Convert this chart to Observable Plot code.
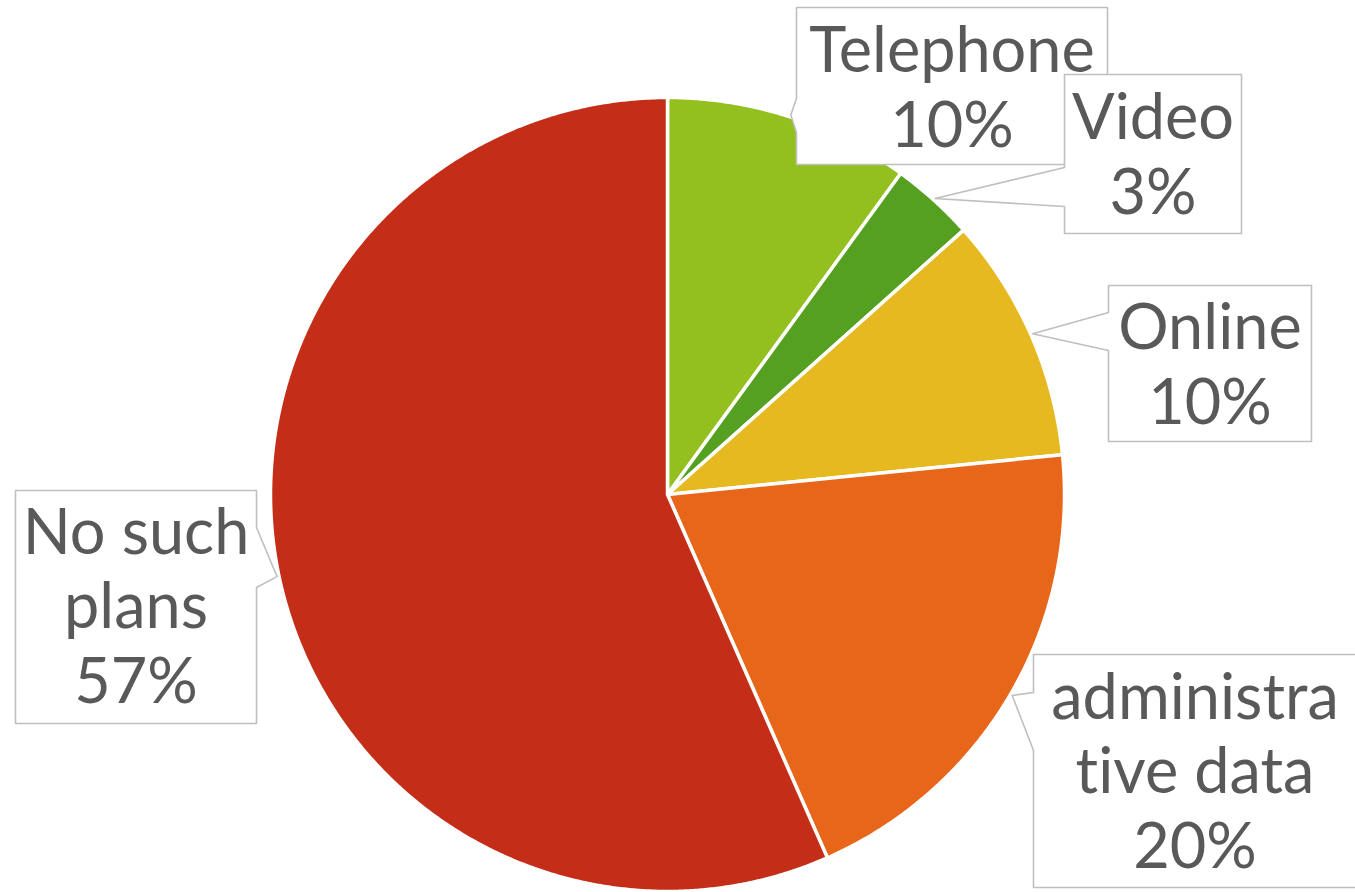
<!DOCTYPE html>
<html><head><meta charset="utf-8">
<script src="https://cdn.jsdelivr.net/npm/d3@7"></script>
<script src="https://cdn.jsdelivr.net/npm/@observablehq/plot@0.6"></script>
<style>html,body{margin:0;padding:0;background:#fff;overflow:hidden}
svg text{font-variant-ligatures:none;font-feature-settings:"liga" 0,"clig" 0,"dlig" 0}</style>
</head><body><div id="chart"></div>
<script>
// ---- data ----
const categories = ["Telephone", "Video", "Online", "administrative data", "No such plans"];
const labelLines = [["Telephone"], ["Video"], ["Online"], ["administra", "tive data"], ["No such", "plans"]];
const values = [10, 3.4, 10, 20, 56.6];
const percentLabels = ["10%", "3%", "10%", "20%", "57%"];
const colors = ["#93C01F", "#55A021", "#E5B91F", "#E8661A", "#C42E18"];

// ---- layout ----
const W = 1355, H = 892;
const cx = 667, cy = 494, R = 397, tipR = 399;
const boxes = [
  {x0: 796, y0: 7, x1: 1107, y1: 164, side: "left", p0: 98, p1: 132, baseline: 146},
  {x0: 1064, y0: 74, x1: 1241, y1: 233, side: "left", p0: 167, p1: 206, baseline: 213},
  {x0: 1108, y0: 285, x1: 1311, y1: 441, side: "left", p0: 312, p1: 350, baseline: 423},
  {x0: 1033, y0: 654, x1: 1360, y1: 887, side: "left", p0: 692, p1: 750, baseline: 867},
  {x0: 15, y0: 490, x1: 256, y1: 723, side: "right", p0: 527, p1: 587, baseline: 702}
];

const arcs = d3.pie().sort(null).value(d => d)(values);

// slice polygons
const slicePts = [];
arcs.forEach((a, i) => {
  slicePts.push({slice: i, x: cx, y: cy, color: colors[i]});
  const n = Math.max(2, Math.ceil((a.endAngle - a.startAngle) / 0.005));
  for (let k = 0; k <= n; k++) {
    const t = a.startAngle + (a.endAngle - a.startAngle) * k / n;
    slicePts.push({slice: i, x: cx + R * Math.sin(t), y: cy - R * Math.cos(t), color: colors[i]});
  }
  slicePts.push({slice: i, x: cx, y: cy, color: colors[i]});
});

// callout polygons
function calloutPoly(b, a, i) {
  const mid = (a.startAngle + a.endAngle) / 2;
  const tx = cx + tipR * Math.sin(mid), ty = cy - tipR * Math.cos(mid);
  let pts;
  if (b.side === "left") {
    pts = [[b.x0, b.y0], [b.x1, b.y0], [b.x1, b.y1], [b.x0, b.y1], [b.x0, b.p1], [tx, ty], [b.x0, b.p0], [b.x0, b.y0]];
  } else {
    pts = [[b.x0, b.y0], [b.x1, b.y0], [b.x1, b.p0], [tx, ty], [b.x1, b.p1], [b.x1, b.y1], [b.x0, b.y1], [b.x0, b.y0]];
  }
  return pts.map(([x, y]) => ({i, x, y}));
}

const labelData = boxes.map((b, i) => ({
  x: (b.x0 + Math.min(b.x1, 1356)) / 2,
  y: b.baseline,
  text: [...labelLines[i], percentLabels[i]].join("\n")
}));

const calloutMarks = boxes.map((b, i) =>
  Plot.line(calloutPoly(b, arcs[i], i), {x: "x", y: "y", fill: "#fff", stroke: "#BFBFBF", strokeWidth: 1.6, curve: "linear"})
);

const plot = Plot.plot({
  width: W, height: H, margin: 0,
  x: {domain: [0, W], range: [0, W], axis: null},
  y: {domain: [0, H], range: [0, H], axis: null},
  color: {type: "identity"},
  style: {background: "#fff", fontFamily: "Lato, 'Open Sans', sans-serif", overflow: "hidden"},
  marks: [
    Plot.line(slicePts, {x: "x", y: "y", z: "slice", fill: "color", stroke: "#fff", strokeWidth: 3.5, strokeLinejoin: "round", curve: "linear"}),
    ...calloutMarks,
    Plot.text(labelData, {x: "x", y: "y", text: "text", lineAnchor: "bottom", textAnchor: "middle", fontSize: 63, lineHeight: 1.18, fill: "#595959"})
  ]
});
document.getElementById("chart").appendChild(plot);
</script>
</body></html>
